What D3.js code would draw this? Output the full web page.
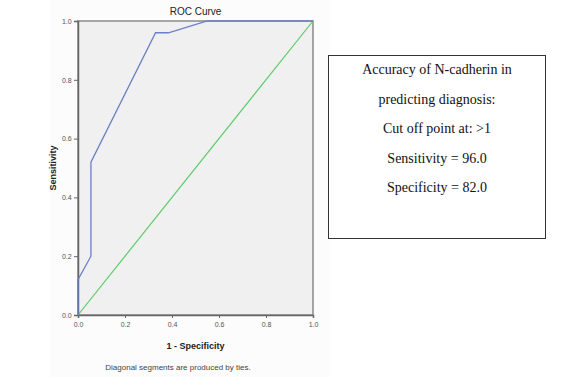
<!DOCTYPE html>
<html>
<head>
<meta charset="utf-8">
<script src="https://cdn.jsdelivr.net/npm/d3@7.8.5/dist/d3.min.js"></script>
<style>
  html, body { margin: 0; padding: 0; background: #fff; }
  svg { display: block; }
</style>
</head>
<body>
<svg id="chart" width="568" height="377"></svg>
<script>
// ROC curve points (1 - specificity, sensitivity)
const fpr = [0, 0, 0.055, 0.055, 0.33, 0.385, 0.55, 1.0];
const tpr = [0, 0.12, 0.2, 0.52, 0.96, 0.96, 1.0, 1.0];
const refLine = [0, 1];
const ticks = [0, 0.2, 0.4, 0.6, 0.8, 1.0];
const boxLines = [
  'Accuracy of N-cadherin in',
  'predicting diagnosis:',
  'Cut off point at: >1',
  'Sensitivity = 96.0',
  'Specificity = 82.0'
];

const svg = d3.select('#chart');
const margin = { left: 78, top: 21, right: 313, bottom: 315 };

// faint panel behind chart
svg.append('rect')
    .attr('x', 50).attr('y', 0).attr('width', 280).attr('height', 377)
    .attr('fill', '#fcfcfc');

const x = d3.scaleLinear().domain([0, 1]).range([margin.left, margin.right]);
const y = d3.scaleLinear().domain([0, 1]).range([margin.bottom, margin.top]);

svg.append('rect')
    .attr('x', x(0)).attr('y', y(1))
    .attr('width', x(1) - x(0)).attr('height', y(0) - y(1))
    .attr('fill', '#f0f0f0')
    .attr('stroke', '#8a8a8a')
    .attr('stroke-width', 1.5);

// axes
const xAxis = svg.append('g')
    .attr('transform', `translate(0,${y(0)})`)
    .call(d3.axisBottom(x).tickValues(ticks).tickFormat(d3.format('.1f')).tickSize(3));
const yAxis = svg.append('g')
    .attr('transform', `translate(${x(0)},0)`)
    .call(d3.axisLeft(y).tickValues(ticks).tickFormat(d3.format('.1f')).tickSize(4));

[xAxis, yAxis].forEach(a => {
    a.select('.domain').attr('stroke', '#666').attr('stroke-width', 1.5);
    a.selectAll('.tick line').attr('stroke', '#666');
    a.selectAll('.tick text')
        .attr('fill', '#555')
        .style('font-family', 'Liberation Sans, Arial, sans-serif')
        .style('font-size', '7px');
});
xAxis.selectAll('.tick text').attr('dy', '0.9em');
yAxis.selectAll('.tick text').attr('dx', '0.1em');

// reference diagonal
svg.append('line')
    .attr('x1', x(refLine[0])).attr('y1', y(refLine[0]))
    .attr('x2', x(refLine[1])).attr('y2', y(refLine[1]))
    .attr('stroke', '#5ccc6a')
    .attr('stroke-width', 1.2);

// ROC curve
const pts = fpr.map((f, i) => [f, tpr[i]]);
svg.append('path')
    .datum(pts)
    .attr('fill', 'none')
    .attr('stroke', '#6b7fca')
    .attr('stroke-width', 1.3)
    .attr('d', d3.line().x(d => x(d[0])).y(d => y(d[1])));

// titles
svg.append('text')
    .attr('x', (x(0) + x(1)) / 2).attr('y', 15)
    .attr('text-anchor', 'middle')
    .style('font-family', 'Liberation Sans, Arial, sans-serif')
    .style('font-size', '10px')
    .attr('fill', '#222')
    .text('ROC Curve');

svg.append('text')
    .attr('x', (x(0) + x(1)) / 2).attr('y', 349)
    .attr('text-anchor', 'middle')
    .style('font-family', 'Liberation Sans, Arial, sans-serif')
    .style('font-size', '9px')
    .style('font-weight', 'bold')
    .attr('fill', '#222')
    .text('1 - Specificity');

svg.append('text')
    .attr('transform', `translate(56,${(y(0) + y(1)) / 2}) rotate(-90)`)
    .attr('text-anchor', 'middle')
    .style('font-family', 'Liberation Sans, Arial, sans-serif')
    .style('font-size', '9px')
    .style('font-weight', 'bold')
    .attr('fill', '#222')
    .text('Sensitivity');

svg.append('text')
    .attr('x', 178).attr('y', 370)
    .attr('text-anchor', 'middle')
    .style('font-family', 'Liberation Sans, Arial, sans-serif')
    .style('font-size', '8px')
    .attr('fill', '#444')
    .text('Diagonal segments are produced by ties.');

// annotation box
const box = svg.append('g');
box.append('rect')
    .attr('x', 328.5).attr('y', 55.5)
    .attr('width', 217).attr('height', 183)
    .attr('fill', '#fff')
    .attr('stroke', '#333')
    .attr('stroke-width', 1);
box.selectAll('text')
    .data(boxLines)
    .enter()
    .append('text')
    .attr('x', 437)
    .attr('y', (d, i) => 74 + i * 29.5)
    .attr('text-anchor', 'middle')
    .style('font-family', 'Liberation Serif, Times New Roman, serif')
    .style('font-size', '14px')
    .attr('fill', '#111')
    .text(d => d);
</script>
</body>
</html>
